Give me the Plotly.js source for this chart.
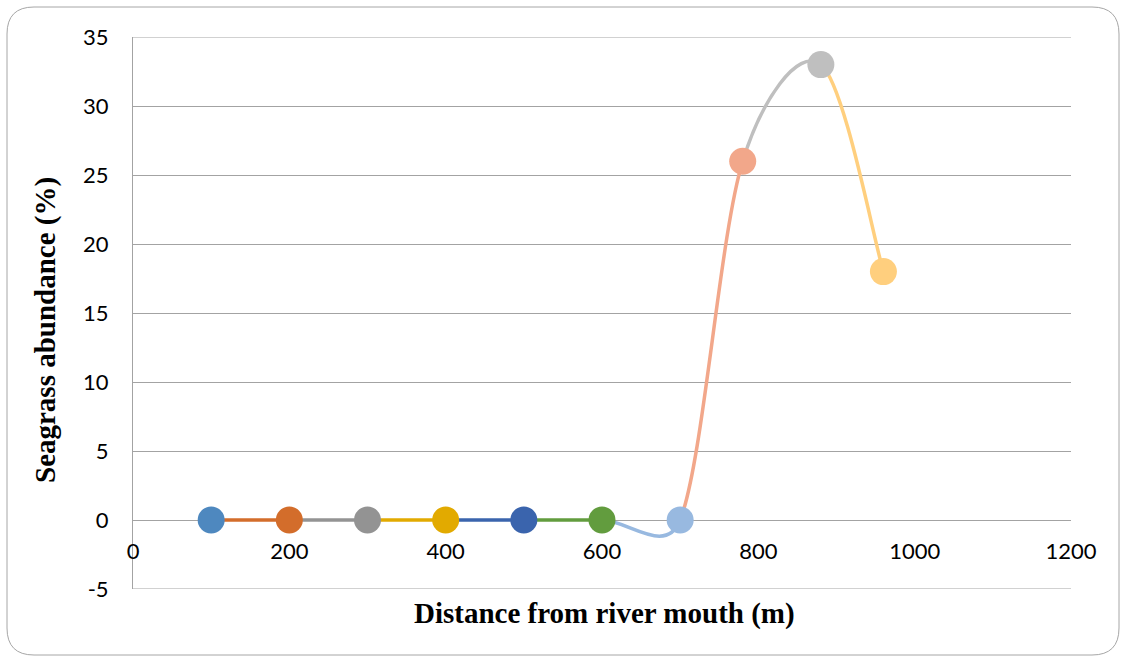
<!DOCTYPE html>
<html>
<head>
<meta charset="utf-8">
<script src="https://cdn.plot.ly/plotly-3.0.1.min.js"></script>
<style>html,body{margin:0;padding:0;background:#fff;}#chart{width:1122px;height:658px;}</style>
</head>
<body>
<div id="chart"></div>
<script>
// ---- data ----
const distance = [100, 200, 300, 400, 500, 600, 700, 780, 880, 960];
const abundance = [0, 0, 0, 0, 0, 0, 0, 26, 33, 18];
const pointColors = ['#4E88BF', '#D36D2B', '#939393', '#E2AA00', '#3A64AD',
                     '#629C3E', '#98B9E0', '#F2A78A', '#BFBFBF', '#FFCF7E'];
const xTicks = [0, 200, 400, 600, 800, 1000, 1200];
const yTicks = [-5, 0, 5, 10, 15, 20, 25, 30, 35];
const xTitle = 'Distance from river mouth (m)';
const yTitle = 'Seagrass abundance (%)';

// ---- layout geometry ----
const W = 1122, H = 658;
const M = {l: 133, r: 51, t: 37, b: 69, pad: 0};
const xRange = [0, 1200], yRange = [-5, 35];
const pw = W - M.l - M.r, ph = H - M.t - M.b;
const kx = pw / (xRange[1] - xRange[0]);
const ky = ph / (yRange[1] - yRange[0]);
const px = v => (v - M.l) / pw;          // pixel -> paper x
const py = v => (H - M.b - v) / ph;      // pixel -> paper y
const GRID = '#A3A3A3';

// ---- Excel-like smoothed segments (Bezier, computed in screen space) ----
const P = distance.map((x, i) => [x * kx, abundance[i] * ky]);
const dist = (a, b) => Math.hypot(a[0] - b[0], a[1] - b[1]);
const shapes = [];
// gridlines at the range edges (Plotly omits them)
[yRange[0], yRange[1]].forEach(v => shapes.push({
  type: 'line', xref: 'paper', yref: 'y', x0: 0, x1: 1, y0: v, y1: v,
  layer: 'below', line: {color: GRID, width: 1}
}));
for (let i = 0; i < P.length - 1; i++) {
  const p0 = P[Math.max(i - 1, 0)], p1 = P[i], p2 = P[i + 1], p3 = P[Math.min(i + 2, P.length - 1)];
  const d12 = dist(p1, p2), d02 = dist(p0, p2), d13 = dist(p1, p3);
  let f0 = 1 / 6, f3 = 1 / 6;
  if (d02 > 0 && d02 / 6 > d12 / 2) f0 = d12 / 2 / d02;
  if (d13 > 0 && d13 / 6 > d12 / 2) f3 = d12 / 2 / d13;
  const c1 = [p1[0] + (p2[0] - p0[0]) * f0, p1[1] + (p2[1] - p0[1]) * f0];
  const c2 = [p2[0] - (p3[0] - p1[0]) * f3, p2[1] - (p3[1] - p1[1]) * f3];
  const d = (q) => (q[0] / kx) + ',' + (q[1] / ky);
  shapes.push({
    type: 'path', xref: 'x', yref: 'y', layer: 'between',
    path: 'M' + d(p1) + ' C' + d(c1) + ' ' + d(c2) + ' ' + d(p2),
    line: {color: pointColors[i + 1], width: 3.5}
  });
}

// rounded chart border
const L = px(7), R = px(1119), T = py(7), B = py(655);
const rx = 27 / pw, ry = 27 / ph;
shapes.push({
  type: 'path', xref: 'paper', yref: 'paper', layer: 'below',
  path: `M${L + rx},${T} L${R - rx},${T} Q${R},${T} ${R},${T - ry} L${R},${B + ry} Q${R},${B} ${R - rx},${B} L${L + rx},${B} Q${L},${B} ${L},${B + ry} L${L},${T - ry} Q${L},${T} ${L + rx},${T} Z`,
  line: {color: '#A6A6A6', width: 1}
});

const trace = {
  type: 'scatter', mode: 'markers',
  x: distance, y: abundance,
  marker: {size: 27, color: pointColors, line: {width: 0}},
  hoverinfo: 'x+y', showlegend: false
};

const tickFont = {family: 'Lato, "Open Sans", sans-serif', size: 22, color: '#000'};
const titleFont = {family: '"Liberation Serif", "Times New Roman", serif', size: 29, color: '#000'};

const layout = {
  width: W, height: H, margin: M,
  paper_bgcolor: '#fff', plot_bgcolor: '#fff',
  showlegend: false,
  xaxis: {
    range: xRange, tickvals: xTicks, ticktext: xTicks.map(String),
    showgrid: false, zeroline: false, showline: false,
    anchor: 'free', position: (0 - yRange[0]) / (yRange[1] - yRange[0]),
    ticks: 'outside', ticklen: 12, tickcolor: 'rgba(0,0,0,0)',
    tickfont: tickFont, fixedrange: true
  },
  yaxis: {
    range: yRange, tickvals: yTicks, ticktext: yTicks.map(String),
    showgrid: true, gridcolor: GRID, gridwidth: 1,
    zeroline: false, showline: true, linecolor: GRID, linewidth: 1,
    ticks: 'outside', ticklen: 19, tickcolor: 'rgba(0,0,0,0)',
    tickfont: tickFont, fixedrange: true
  },
  shapes: shapes,
  annotations: [
    {text: '<b>' + xTitle + '</b>', xref: 'paper', yref: 'paper', x: px(604), y: py(613),
     xanchor: 'center', yanchor: 'middle', showarrow: false, font: titleFont},
    {text: '<b>' + yTitle + '</b>', xref: 'paper', yref: 'paper', x: px(45), y: py(330),
     xanchor: 'center', yanchor: 'middle', textangle: -90, showarrow: false, font: titleFont}
  ]
};

Plotly.newPlot('chart', [trace], layout, {displayModeBar: false, staticPlot: true});
</script>
</body>
</html>
